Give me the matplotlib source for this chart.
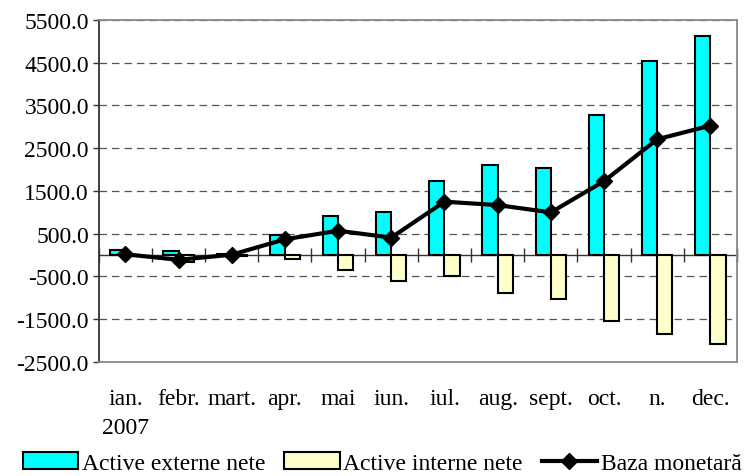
import numpy as np
import matplotlib
matplotlib.use('Agg')
import matplotlib.pyplot as plt

# values (mil. lei)
months = ['ian.\n2007', 'febr.', 'mart.', 'apr.', 'mai', 'iun.', 'iul.', 'aug.',
          'sept.', 'oct.', 'n.', 'dec.']
active_externe = [110, 90, 30, 470, 910, 1000, 1730, 2110, 2030, 3270, 4550, 5120]
active_interne = [-20, -160, -20, -90, -350, -600, -480, -890, -1030, -1530, -1850, -2090]
baza_monetara = [20, -110, 10, 370, 570, 410, 1250, 1170, 1000, 1730, 2710, 3030]
y_ticks = [-2500, -1500, -500, 500, 1500, 2500, 3500, 4500, 5500]

plt.rcParams['font.family'] = ['Liberation Serif', 'DejaVu Serif']
plt.rcParams['font.size'] = 17

fig = plt.figure(figsize=(7.49, 4.77), dpi=100)
ax = fig.add_axes([0.1318, 0.239, 0.8522, 0.717])

x = np.arange(len(months))
w = 0.285
b1 = ax.bar(x - w / 2, active_externe, w, color='#00FFFF', edgecolor='black',
            linewidth=1.5, label='Active externe nete', zorder=3)
b2 = ax.bar(x + w / 2, active_interne, w, color='#FFFFCC', edgecolor='black',
            linewidth=1.5, label='Active interne nete', zorder=3)
l1, = ax.plot(x, baza_monetara, color='black', linewidth=3, marker='D', markersize=8.5,
              label='Baza monetară', zorder=4)

ax.set_xlim(-0.5, len(months) - 0.5)
ax.set_ylim(-2500, 5500)
ax.set_yticks(y_ticks)
ax.yaxis.set_major_formatter(matplotlib.ticker.FormatStrFormatter('%.1f'))
ax.tick_params(axis='y', direction='out', length=4, width=1, color='#333333', pad=3)
ax.yaxis.grid(True, linestyle=(0, (6, 4)), color='#555555', linewidth=0.9, zorder=0)

ax.set_xticks(x)
ax.set_xticklabels(months, linespacing=1.5)
ax.tick_params(axis='x', length=0, pad=19)

for side in ['top', 'right', 'bottom']:
    ax.spines[side].set_color('#888888')
    ax.spines[side].set_linewidth(1.3)
ax.spines['left'].set_color('#333333')
ax.spines['left'].set_linewidth(1.3)

# zero line with tick marks between categories
zero_frac = (0 - (-2500)) / (5500 - (-2500))
sec = ax.secondary_xaxis(zero_frac)
sec.set_xticks(np.arange(-0.5, len(months), 1.0))
sec.set_xticklabels([])
sec.tick_params(direction='inout', length=10, width=1, color='#333333')
sec.spines['bottom'].set_color('#333333')
sec.spines['bottom'].set_linewidth(1)

fig.legend(handles=[b1, b2, l1], loc='center', bbox_to_anchor=(0.51, 0.027), ncol=3,
           frameon=False, handlelength=2.35, handletextpad=0.15, columnspacing=0.8,
           borderpad=0)

fig.savefig('out.png', dpi=100)
